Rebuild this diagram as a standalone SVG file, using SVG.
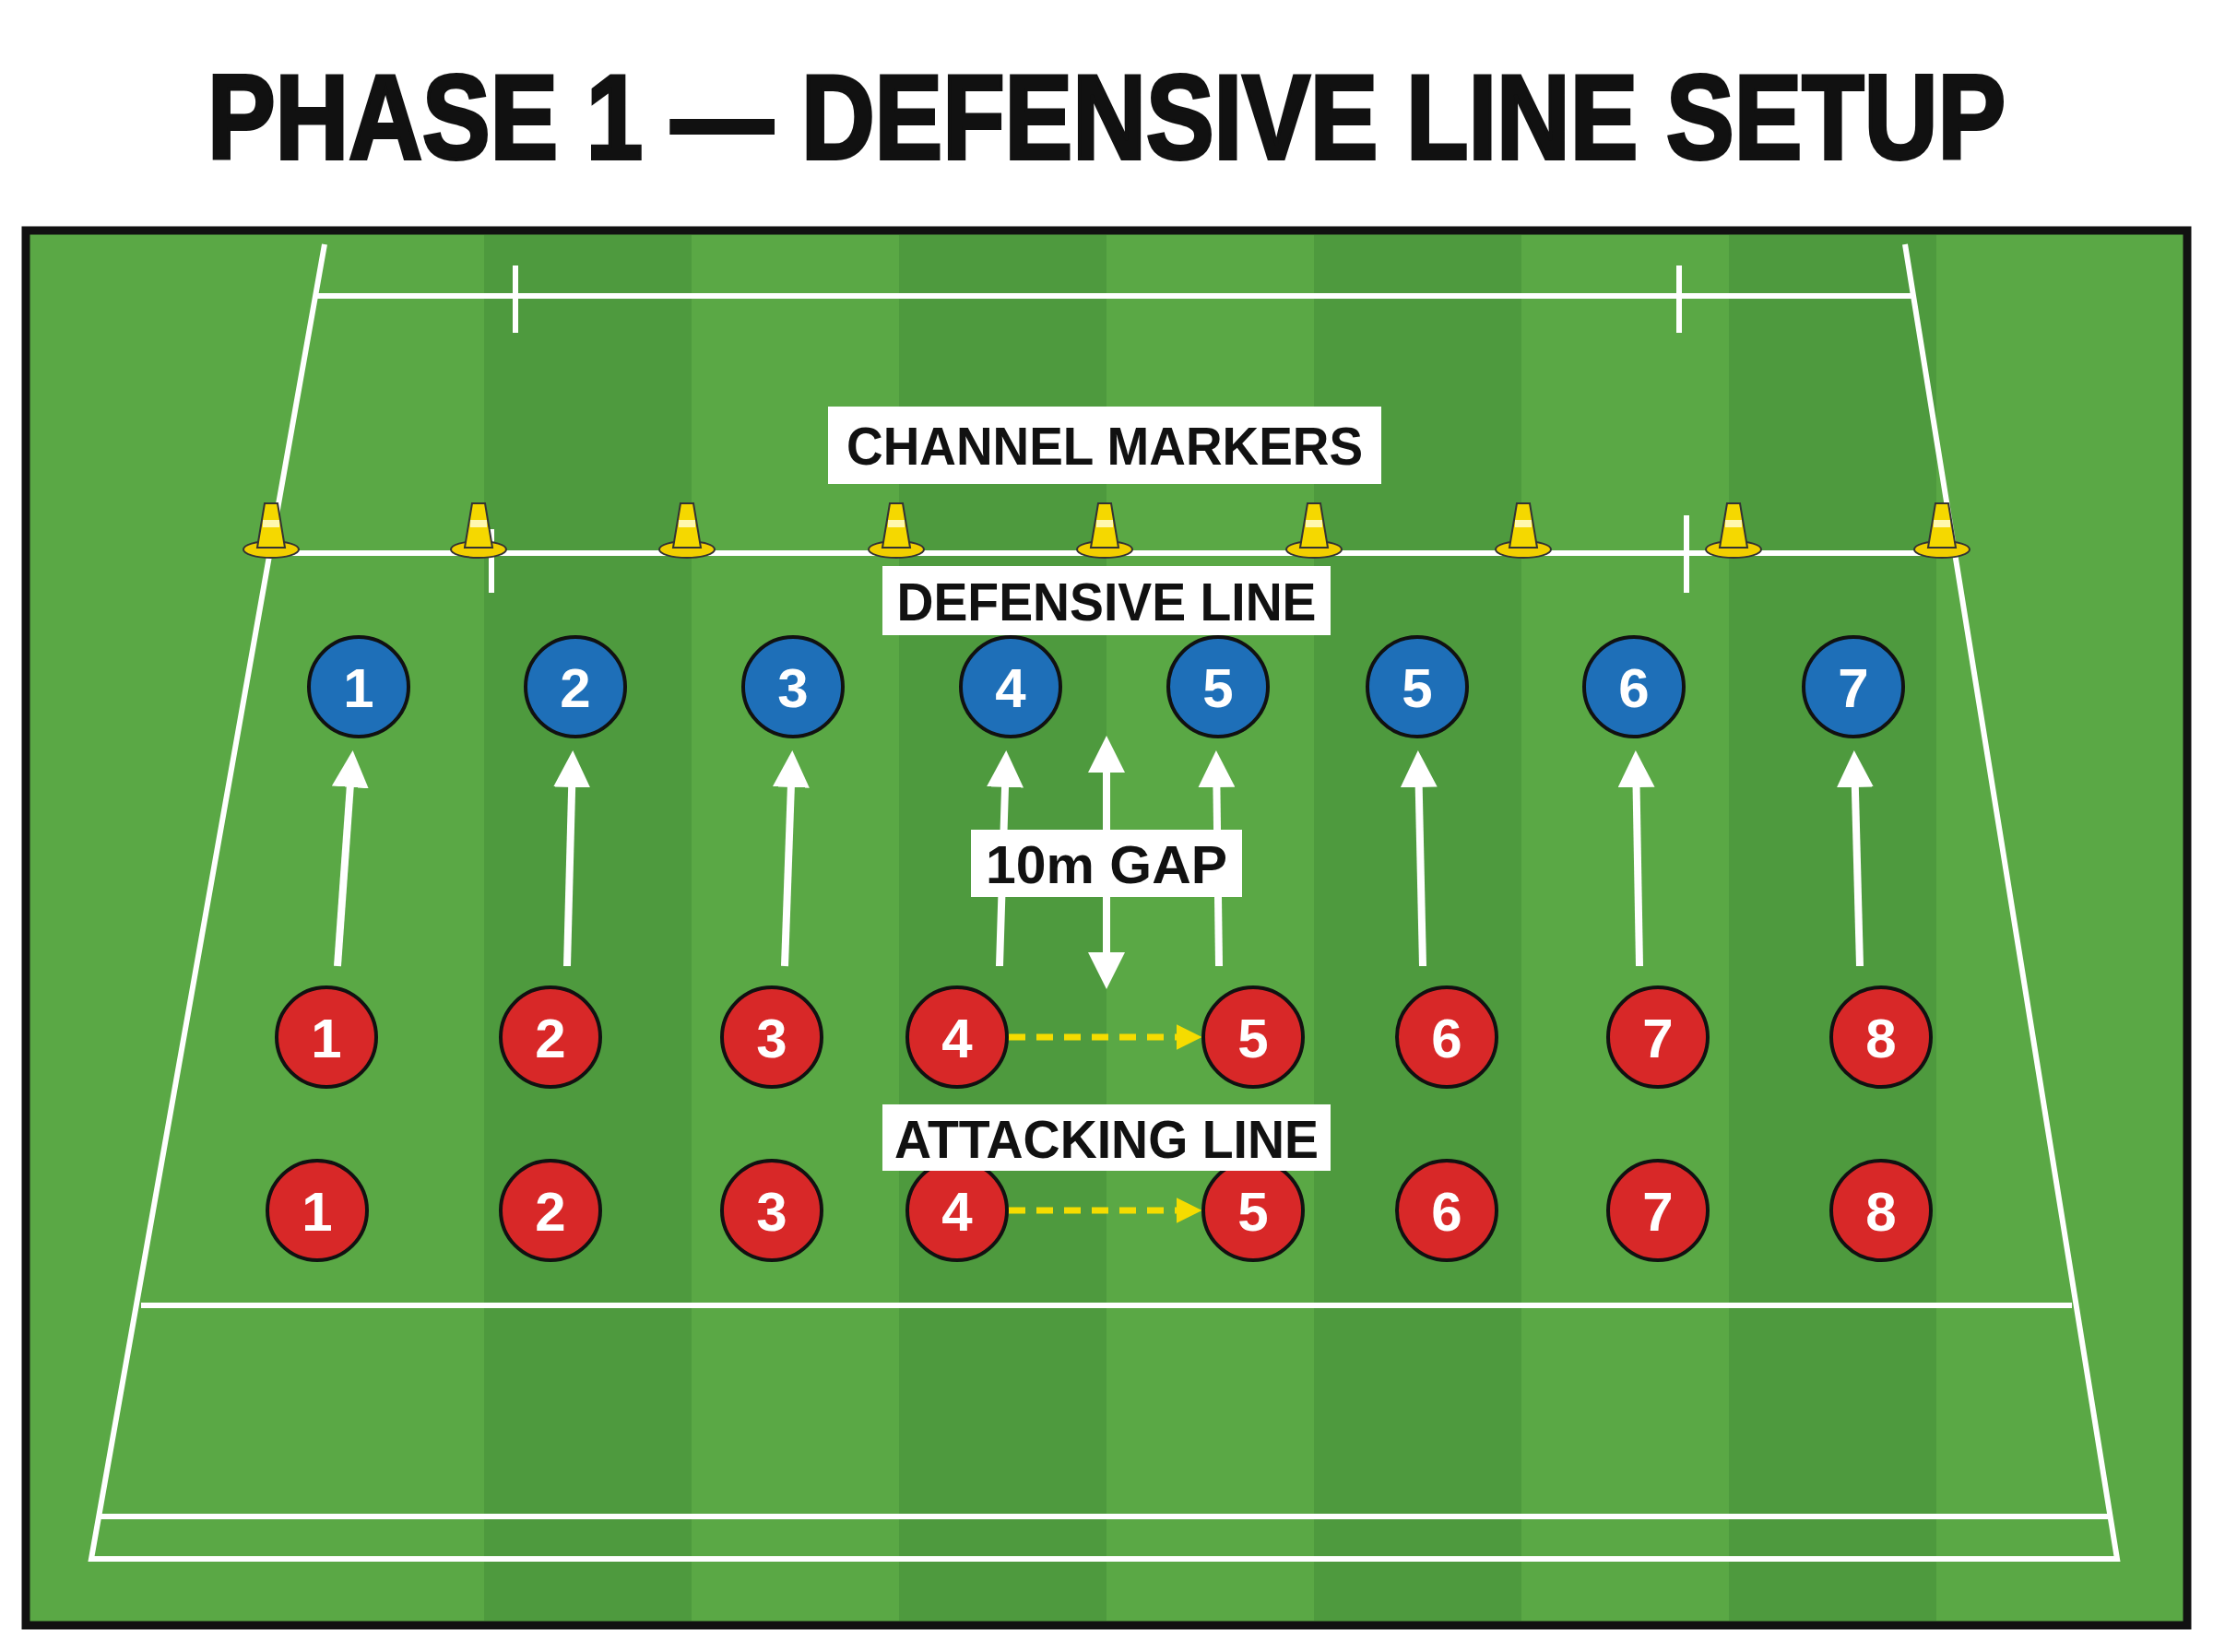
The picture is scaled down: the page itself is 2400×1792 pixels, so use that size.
<svg xmlns="http://www.w3.org/2000/svg" width="2400" height="1792" viewBox="0 0 2400 1792">
<defs>
<marker id="wa" viewBox="0 0 10 10" refX="8" refY="5" markerWidth="5" markerHeight="5" orient="auto-start-reverse"><path d="M0,0 L10,5 L0,10 z" fill="#fff"/></marker>
<marker id="ya" viewBox="0 0 10 10" refX="8" refY="5" markerWidth="4" markerHeight="4" orient="auto"><path d="M0,0 L10,5 L0,10 z" fill="#f5dc00"/></marker>
<g id="cone"><ellipse cx="0" cy="0" rx="30" ry="9" fill="#f2cf00" stroke="#333" stroke-width="2"/><path d="M-15,-2 L-7,-50 L7,-50 L15,-2 z" fill="#f5d800" stroke="#333" stroke-width="2"/><rect x="-9" y="-32" width="18" height="8" fill="#fff8b0"/></g>
</defs>
<style>
.ln{stroke:#fff;stroke-width:6;fill:none}
.b circle{fill:#1e6fb8;stroke:#111;stroke-width:4}
.r circle{fill:#d82828;stroke:#111;stroke-width:4}
.n{font-family:"Liberation Sans",Arial,sans-serif;font-weight:bold;font-size:60px;fill:#fff;text-anchor:middle}
.lab rect{fill:#fff}
.lab text{font-family:"Liberation Sans",Arial,sans-serif;font-weight:bold;font-size:58px;fill:#111;text-anchor:middle}
.wa{stroke:#fff;stroke-width:8;fill:none;marker-end:url(#wa)}
.ya{stroke:#f5dc00;stroke-width:7;stroke-dasharray:18 12;fill:none;marker-end:url(#ya)}
</style>
<rect width="2400" height="1792" fill="#fff"/>
<text x="1200" y="172" font-family="Liberation Sans,Arial,sans-serif" font-weight="bold" font-size="130" text-anchor="middle" textLength="1950" lengthAdjust="spacingAndGlyphs" fill="#111" stroke="#111" stroke-width="4">PHASE 1 — DEFENSIVE LINE SETUP</text>
<g id="field">
<rect x="28" y="250" width="2344" height="1513" fill="#5aa845" stroke="#111" stroke-width="9"/>
<g fill="#4e9a3e"><rect x="525" y="255" width="225" height="1503"/><rect x="975" y="255" width="225" height="1503"/><rect x="1425" y="255" width="225" height="1503"/><rect x="1875" y="255" width="225" height="1503"/></g>
<path class="ln" d="M352,265 L99,1691 L2296,1691 L2066,265"/>
<path class="ln" d="M344,321 H2074 M107,1645 H2288 M153,1416 H2247 M275,600 H2127 M559,288 V361 M1821,288 V361 M533,574 V643 M1829,559 V643"/>
</g>
<g id="cones">
<use href="#cone" x="294" y="596"/><use href="#cone" x="519" y="596"/><use href="#cone" x="745" y="596"/><use href="#cone" x="972" y="596"/><use href="#cone" x="1198" y="596"/><use href="#cone" x="1425" y="596"/><use href="#cone" x="1652" y="596"/><use href="#cone" x="1880" y="596"/><use href="#cone" x="2106" y="596"/>
</g>
<g id="connectors">
<path class="wa" d="M366,1048 L382,822"/><path class="wa" d="M615,1048 L621,822"/><path class="wa" d="M851,1048 L859,822"/><path class="wa" d="M1084,1048 L1091,822"/><path class="wa" d="M1322,1048 L1319,822"/><path class="wa" d="M1543,1048 L1538,822"/><path class="wa" d="M1778,1048 L1774,822"/><path class="wa" d="M2017,1048 L2011,822"/>
<path class="wa" d="M1200,1065 L1200,806" marker-start="url(#wa)"/>
<path class="ya" d="M1094,1125 H1298"/><path class="ya" d="M1094,1313 H1298"/>
</g>
<g class="b">
<g id="d1"><circle cx="389" cy="745" r="54"/><text class="n" x="389" y="767">1</text></g>
<g id="d2"><circle cx="624" cy="745" r="54"/><text class="n" x="624" y="767">2</text></g>
<g id="d3"><circle cx="860" cy="745" r="54"/><text class="n" x="860" y="767">3</text></g>
<g id="d4"><circle cx="1096" cy="745" r="54"/><text class="n" x="1096" y="767">4</text></g>
<g id="d5"><circle cx="1321" cy="745" r="54"/><text class="n" x="1321" y="767">5</text></g>
<g id="d5b"><circle cx="1537" cy="745" r="54"/><text class="n" x="1537" y="767">5</text></g>
<g id="d6"><circle cx="1772" cy="745" r="54"/><text class="n" x="1772" y="767">6</text></g>
<g id="d7"><circle cx="2010" cy="745" r="54"/><text class="n" x="2010" y="767">7</text></g>
</g>
<g class="r">
<g id="a1"><circle cx="354" cy="1125" r="54"/><text class="n" x="354" y="1147">1</text></g>
<g id="a2"><circle cx="597" cy="1125" r="54"/><text class="n" x="597" y="1147">2</text></g>
<g id="a3"><circle cx="837" cy="1125" r="54"/><text class="n" x="837" y="1147">3</text></g>
<g id="a4"><circle cx="1038" cy="1125" r="54"/><text class="n" x="1038" y="1147">4</text></g>
<g id="a5"><circle cx="1359" cy="1125" r="54"/><text class="n" x="1359" y="1147">5</text></g>
<g id="a6"><circle cx="1569" cy="1125" r="54"/><text class="n" x="1569" y="1147">6</text></g>
<g id="a7"><circle cx="1798" cy="1125" r="54"/><text class="n" x="1798" y="1147">7</text></g>
<g id="a8"><circle cx="2040" cy="1125" r="54"/><text class="n" x="2040" y="1147">8</text></g>
<g id="b1"><circle cx="344" cy="1313" r="54"/><text class="n" x="344" y="1335">1</text></g>
<g id="b2"><circle cx="597" cy="1313" r="54"/><text class="n" x="597" y="1335">2</text></g>
<g id="b3"><circle cx="837" cy="1313" r="54"/><text class="n" x="837" y="1335">3</text></g>
<g id="b4"><circle cx="1038" cy="1313" r="54"/><text class="n" x="1038" y="1335">4</text></g>
<g id="b5"><circle cx="1359" cy="1313" r="54"/><text class="n" x="1359" y="1335">5</text></g>
<g id="b6"><circle cx="1569" cy="1313" r="54"/><text class="n" x="1569" y="1335">6</text></g>
<g id="b7"><circle cx="1798" cy="1313" r="54"/><text class="n" x="1798" y="1335">7</text></g>
<g id="b8"><circle cx="2040" cy="1313" r="54"/><text class="n" x="2040" y="1335">8</text></g>
</g>
<g class="lab">
<g id="l1"><rect x="898" y="441" width="600" height="84"/><text x="1198" y="504" textLength="560" lengthAdjust="spacingAndGlyphs">CHANNEL MARKERS</text></g>
<g id="l2"><rect x="957" y="614" width="486" height="75"/><text x="1200" y="673" textLength="455" lengthAdjust="spacingAndGlyphs">DEFENSIVE LINE</text></g>
<g id="l3"><rect x="1053" y="900" width="294" height="73"/><text x="1200" y="958" textLength="262" lengthAdjust="spacingAndGlyphs">10m GAP</text></g>
<g id="l4"><rect x="957" y="1198" width="486" height="72"/><text x="1200" y="1256" textLength="460" lengthAdjust="spacingAndGlyphs">ATTACKING LINE</text></g>
</g>
</svg>
